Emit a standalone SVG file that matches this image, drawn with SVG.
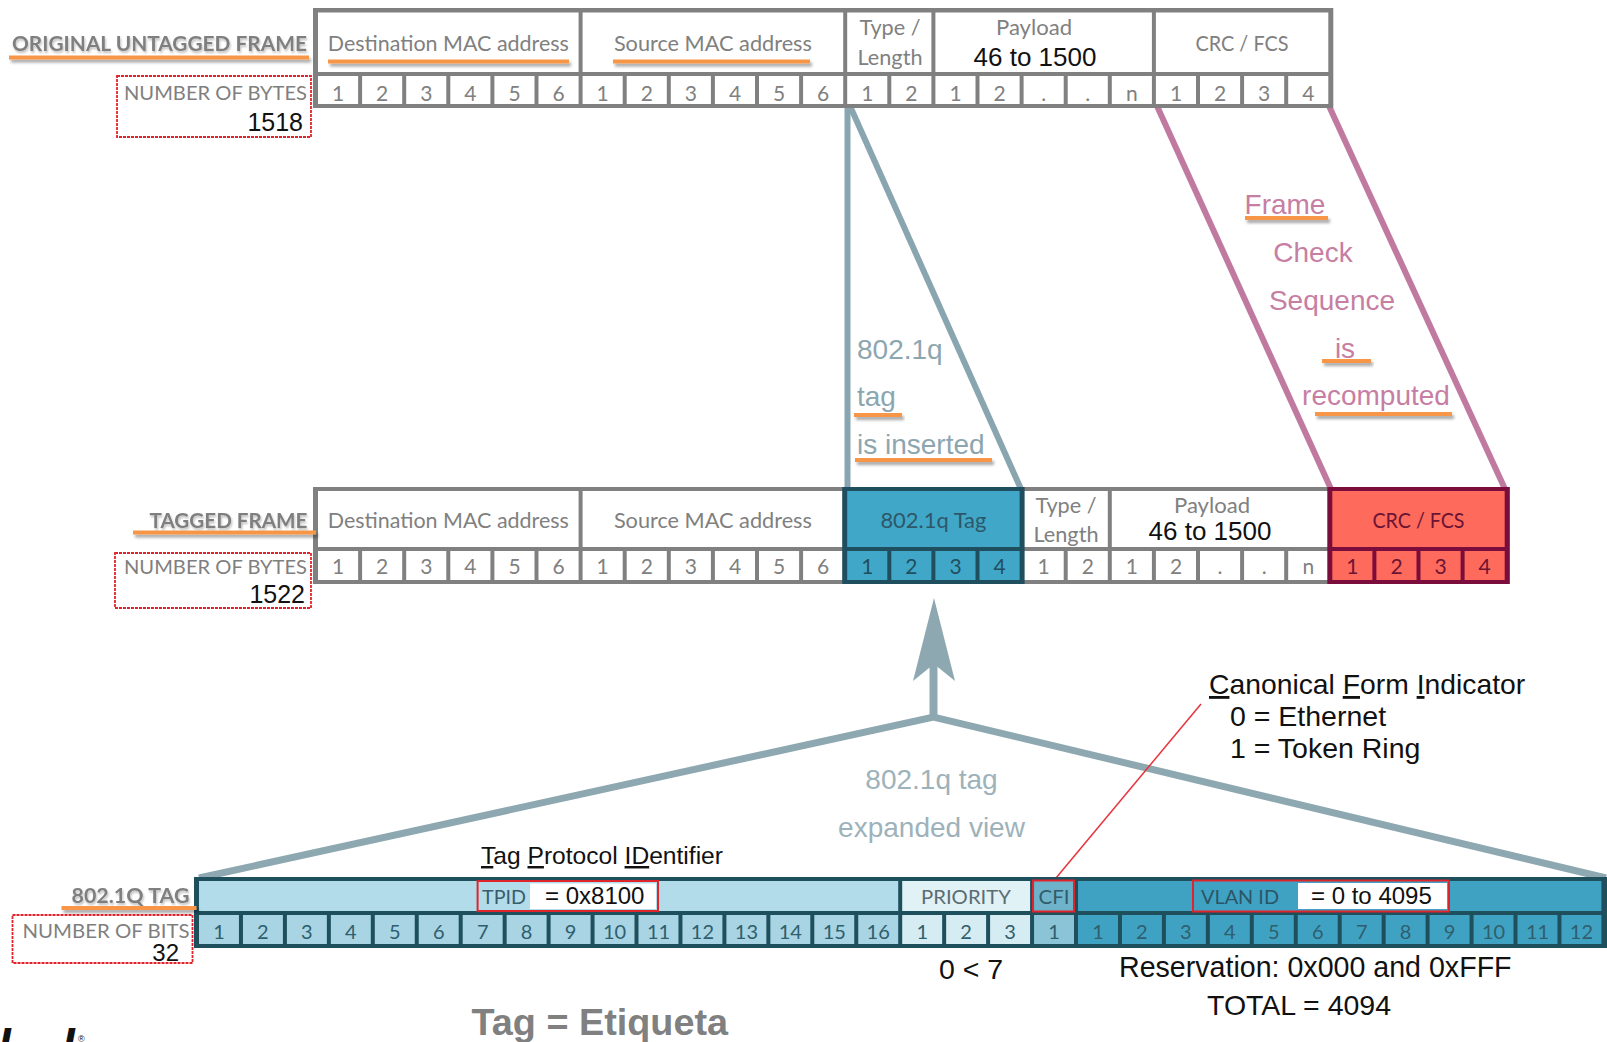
<svg xmlns="http://www.w3.org/2000/svg" width="1607" height="1042" viewBox="0 0 1607 1042">
<defs>
<filter id="sh" x="-5%" y="-100%" width="110%" height="400%"><feDropShadow dx="2" dy="3" stdDeviation="1.5" flood-color="#000" flood-opacity="0.35"/></filter>
<filter id="tsh" x="-5%" y="-30%" width="110%" height="160%"><feDropShadow dx="1" dy="2" stdDeviation="1.2" flood-color="#000" flood-opacity="0.25"/></filter>
</defs>
<style>
.lbl{font-family:Lato,"Open Sans","Liberation Sans",sans-serif;fill:#7f7f7f}
.b{font-weight:700}
.hdr{font-family:Lato,"Open Sans","Liberation Sans",sans-serif;font-size:21px;fill:#808080;text-anchor:middle}
.num{font-family:Lato,"Open Sans","Liberation Sans",sans-serif;font-size:21px;fill:#808080;text-anchor:middle}
.bnum{font-family:Lato,"Open Sans","Liberation Sans",sans-serif;font-size:20px;fill:#2f5e6d;text-anchor:middle}
.blk{font-family:"Liberation Sans",Arial,sans-serif;fill:#111}
.ins{font-family:"Liberation Sans",Arial,sans-serif;font-size:28px;fill:#8ca6b0}
.fcs{font-family:"Liberation Sans",Arial,sans-serif;font-size:28px;fill:#c77ea3;text-anchor:middle}
.ul{fill:#f79646;filter:url(#sh)}
.red{fill:none;stroke:#e3232b;stroke-width:1.8;stroke-dasharray:3 1}
.redS{fill:none;stroke:#e0242c;stroke-width:2}
.frame{fill:#808080}
.w{fill:#fff}
.tagb{fill:#1f4f5e}
.tagc{fill:#41a7c8}
.crcb{fill:#7b0d3c}
.crcc{fill:#fe6a5b}
.qbar{fill:#1e4f5d}
.tp{fill:#b3dcea}
.tpb{fill:#a8d4e3}
.pr{fill:#e1f2f7}
.prb{fill:#d6ecf3}
.cf{fill:#6fb3ca}
.cfb{fill:#8bc4d6}
.vl{fill:#40a2c3}
.bl{stroke:#89a5af;stroke-width:6;fill:none}
.pu{stroke:#c07aa0;stroke-width:6;fill:none}
.ex{stroke:#8ea8b1;stroke-width:7;fill:none}
</style>
<rect width="1607" height="1042" fill="#fff"/>

<g id="connectors">
<line class="bl" x1="847.5" y1="106" x2="847.5" y2="489"/>
<line class="bl" x1="850" y1="106" x2="1021" y2="489"/>
<line class="pu" x1="1157" y1="106" x2="1331" y2="489"/>
<line class="pu" x1="1329" y1="106" x2="1505" y2="489"/>
<polyline class="ex" points="199,878 933.5,717 1606,878"/>
<line x1="933.5" y1="718" x2="933.5" y2="660" stroke="#8ea8b1" stroke-width="8"/>
<polygon points="934,598 955,681 934,664 913,681" fill="#8ea8b1"/>
<line x1="1056" y1="878" x2="1201" y2="704" stroke="#e8323a" stroke-width="1.5"/>
</g>

<g id="original-frame">
<rect class="frame" x="313" y="8" width="1020.3" height="100"/>
<rect class="w" x="318" y="12.5" width="260.6" height="59.5"/>
<rect class="w" x="582.6" y="12.5" width="260.6" height="59.5"/>
<rect class="w" x="847.2" y="12.5" width="84.2" height="59.5"/>
<rect class="w" x="935.4" y="12.5" width="216.5" height="59.5"/>
<rect class="w" x="1155.9" y="12.5" width="172.4" height="59.5"/>
<g class="w">
<rect x="318" y="76" width="40.1" height="28"/><rect x="362.1" y="76" width="40.1" height="28"/><rect x="406.2" y="76" width="40.1" height="28"/><rect x="450.3" y="76" width="40.1" height="28"/><rect x="494.4" y="76" width="40.1" height="28"/><rect x="538.5" y="76" width="40.1" height="28"/>
<rect x="582.6" y="76" width="40.1" height="28"/><rect x="626.7" y="76" width="40.1" height="28"/><rect x="670.8" y="76" width="40.1" height="28"/><rect x="714.9" y="76" width="40.1" height="28"/><rect x="759" y="76" width="40.1" height="28"/><rect x="803.1" y="76" width="40.1" height="28"/>
<rect x="847.2" y="76" width="40.1" height="28"/><rect x="891.3" y="76" width="40.1" height="28"/>
<rect x="935.4" y="76" width="40.1" height="28"/><rect x="979.5" y="76" width="40.1" height="28"/><rect x="1023.6" y="76" width="40.1" height="28"/><rect x="1067.7" y="76" width="40.1" height="28"/><rect x="1111.8" y="76" width="40.1" height="28"/>
<rect x="1155.9" y="76" width="40.1" height="28"/><rect x="1200" y="76" width="40.1" height="28"/><rect x="1244.1" y="76" width="40.1" height="28"/><rect x="1288.2" y="76" width="40.1" height="28"/>
</g>
<text class="hdr" x="448.3" y="51" textLength="241" lengthAdjust="spacingAndGlyphs">Destination MAC address</text>
<text class="hdr" x="712.9" y="51" textLength="198" lengthAdjust="spacingAndGlyphs">Source MAC address</text>
<text class="hdr" x="890" y="35" textLength="61" lengthAdjust="spacingAndGlyphs">Type /</text>
<text class="hdr" x="890" y="64.5" textLength="65" lengthAdjust="spacingAndGlyphs">Length</text>
<text class="hdr" x="1034" y="35" textLength="76" lengthAdjust="spacingAndGlyphs">Payload</text>
<text class="blk" x="1035" y="65.5" font-size="26" text-anchor="middle">46 to 1500</text>
<text class="hdr" x="1242" y="51" textLength="93" lengthAdjust="spacingAndGlyphs">CRC / FCS</text>
<g class="num">
<text x="338.1" y="100.5">1</text><text x="382.2" y="100.5">2</text><text x="426.3" y="100.5">3</text><text x="470.4" y="100.5">4</text><text x="514.5" y="100.5">5</text><text x="558.6" y="100.5">6</text>
<text x="602.7" y="100.5">1</text><text x="646.8" y="100.5">2</text><text x="690.9" y="100.5">3</text><text x="735" y="100.5">4</text><text x="779.1" y="100.5">5</text><text x="823.2" y="100.5">6</text>
<text x="867.3" y="100.5">1</text><text x="911.4" y="100.5">2</text>
<text x="955.5" y="100.5">1</text><text x="999.6" y="100.5">2</text><text x="1043.7" y="100.5">.</text><text x="1087.8" y="100.5">.</text><text x="1131.9" y="100.5">n</text>
<text x="1176" y="100.5">1</text><text x="1220.1" y="100.5">2</text><text x="1264.2" y="100.5">3</text><text x="1308.3" y="100.5">4</text>
</g>
</g>

<g id="original-labels">
<text class="lbl b" x="12" y="51" font-size="20" textLength="295" lengthAdjust="spacingAndGlyphs" filter="url(#tsh)">ORIGINAL UNTAGGED FRAME</text>
<rect class="ul" x="9" y="55.5" width="300" height="4"/>
<rect class="ul" x="328" y="59.5" width="241" height="4"/>
<rect class="ul" x="613" y="59.5" width="197" height="4"/>
<rect class="red" x="117" y="76" width="194" height="61"/>
<text class="lbl" x="307" y="99.5" font-size="20" text-anchor="end" textLength="183" lengthAdjust="spacingAndGlyphs">NUMBER OF BYTES</text>
<text class="blk" x="303" y="131" font-size="25" text-anchor="end">1518</text>
</g>

<g id="insert-note">
<text class="ins" x="857" y="358.5">802.1q</text>
<text class="ins" x="857" y="406">tag</text>
<text class="ins" x="857" y="454">is inserted</text>
<rect class="ul" x="854" y="413" width="48" height="4"/>
<rect class="ul" x="855" y="458" width="137" height="4"/>
</g>

<g id="fcs-note">
<text class="fcs" x="1285" y="214">Frame</text>
<text class="fcs" x="1313" y="262">Check</text>
<text class="fcs" x="1332" y="310">Sequence</text>
<text class="fcs" x="1345" y="358">is</text>
<text class="fcs" x="1376" y="405">recomputed</text>
<rect class="ul" x="1245" y="216" width="83" height="4"/>
<rect class="ul" x="1322" y="359" width="49" height="4"/>
<rect class="ul" x="1315" y="412" width="137" height="4"/>
</g>

<g id="tagged-frame">
<rect class="frame" x="313" y="487" width="1196.7" height="97"/>
<rect class="w" x="318" y="491" width="260.6" height="56"/>
<rect class="w" x="582.6" y="491" width="260.6" height="56"/>
<rect class="w" x="1023.6" y="491" width="84.2" height="56"/>
<rect class="w" x="1111.8" y="491" width="216.5" height="56"/>
<g class="w">
<rect x="318" y="551" width="40.1" height="29"/><rect x="362.1" y="551" width="40.1" height="29"/><rect x="406.2" y="551" width="40.1" height="29"/><rect x="450.3" y="551" width="40.1" height="29"/><rect x="494.4" y="551" width="40.1" height="29"/><rect x="538.5" y="551" width="40.1" height="29"/>
<rect x="582.6" y="551" width="40.1" height="29"/><rect x="626.7" y="551" width="40.1" height="29"/><rect x="670.8" y="551" width="40.1" height="29"/><rect x="714.9" y="551" width="40.1" height="29"/><rect x="759" y="551" width="40.1" height="29"/><rect x="803.1" y="551" width="40.1" height="29"/>
<rect x="1023.6" y="551" width="40.1" height="29"/><rect x="1067.7" y="551" width="40.1" height="29"/>
<rect x="1111.8" y="551" width="40.1" height="29"/><rect x="1155.9" y="551" width="40.1" height="29"/><rect x="1200" y="551" width="40.1" height="29"/><rect x="1244.1" y="551" width="40.1" height="29"/><rect x="1288.2" y="551" width="40.1" height="29"/>
</g>
<rect class="tagb" x="842.2" y="487" width="182.4" height="97"/>
<rect class="tagc" x="847.2" y="491" width="172.4" height="56"/>
<g class="tagc">
<rect x="847.2" y="551" width="40.1" height="29"/><rect x="891.3" y="551" width="40.1" height="29"/><rect x="935.4" y="551" width="40.1" height="29"/><rect x="979.5" y="551" width="40.1" height="29"/>
</g>
<rect class="crcb" x="1327.3" y="487" width="182.4" height="97"/>
<rect class="crcc" x="1332.3" y="491" width="172.4" height="56"/>
<g class="crcc">
<rect x="1332.3" y="551" width="40.1" height="29"/><rect x="1376.4" y="551" width="40.1" height="29"/><rect x="1420.5" y="551" width="40.1" height="29"/><rect x="1464.6" y="551" width="40.1" height="29"/>
</g>
<text class="hdr" x="448.3" y="528" textLength="241" lengthAdjust="spacingAndGlyphs">Destination MAC address</text>
<text class="hdr" x="712.9" y="528" textLength="198" lengthAdjust="spacingAndGlyphs">Source MAC address</text>
<text class="hdr" x="933.4" y="528" style="fill:#2c5868" textLength="106" lengthAdjust="spacingAndGlyphs">802.1q Tag</text>
<text class="hdr" x="1066" y="512.5" textLength="61" lengthAdjust="spacingAndGlyphs">Type /</text>
<text class="hdr" x="1066" y="542" textLength="65" lengthAdjust="spacingAndGlyphs">Length</text>
<text class="hdr" x="1212" y="512.5" textLength="76" lengthAdjust="spacingAndGlyphs">Payload</text>
<text class="blk" x="1210" y="540" font-size="26" text-anchor="middle">46 to 1500</text>
<text class="hdr" x="1418.5" y="528" style="fill:#6b1434" textLength="92" lengthAdjust="spacingAndGlyphs">CRC / FCS</text>
<g class="num">
<text x="338.1" y="574">1</text><text x="382.2" y="574">2</text><text x="426.3" y="574">3</text><text x="470.4" y="574">4</text><text x="514.5" y="574">5</text><text x="558.6" y="574">6</text>
<text x="602.7" y="574">1</text><text x="646.8" y="574">2</text><text x="690.9" y="574">3</text><text x="735" y="574">4</text><text x="779.1" y="574">5</text><text x="823.2" y="574">6</text>
<text x="867.3" y="574" style="fill:#1f4f5e">1</text><text x="911.4" y="574" style="fill:#1f4f5e">2</text><text x="955.5" y="574" style="fill:#1f4f5e">3</text><text x="999.6" y="574" style="fill:#1f4f5e">4</text>
<text x="1043.7" y="574">1</text><text x="1087.8" y="574">2</text>
<text x="1131.9" y="574">1</text><text x="1176" y="574">2</text><text x="1220.1" y="574">.</text><text x="1264.2" y="574">.</text><text x="1308.3" y="574">n</text>
<text x="1352.4" y="574" style="fill:#6b1434">1</text><text x="1396.5" y="574" style="fill:#6b1434">2</text><text x="1440.6" y="574" style="fill:#6b1434">3</text><text x="1484.7" y="574" style="fill:#6b1434">4</text>
</g>
</g>

<g id="tagged-labels">
<text class="lbl b" x="307.5" y="528" font-size="20" text-anchor="end" textLength="158" lengthAdjust="spacingAndGlyphs" filter="url(#tsh)">TAGGED FRAME</text>
<rect class="ul" x="133" y="530.5" width="183" height="4"/>
<rect class="red" x="115" y="553" width="196" height="55"/>
<text class="lbl" x="307" y="574" font-size="20" text-anchor="end" textLength="183" lengthAdjust="spacingAndGlyphs">NUMBER OF BYTES</text>
<text class="blk" x="305" y="602.5" font-size="25" text-anchor="end">1522</text>
</g>

<g id="expanded-note">
<text x="931.5" y="789" font-family="Liberation Sans, Arial, sans-serif" font-size="28" fill="#9db2ba" text-anchor="middle">802.1q tag</text>
<text x="931.5" y="837" font-family="Liberation Sans, Arial, sans-serif" font-size="28" fill="#9db2ba" text-anchor="middle">expanded view</text>
</g>

<g id="dot1q-tag">
<rect class="qbar" x="194" y="877" width="1413" height="71"/>
<rect class="tp" x="199" y="881" width="699.2" height="30"/>
<rect class="pr" x="902.2" y="881" width="127.9" height="30"/>
<rect class="cf" x="1034.05" y="881" width="39.95" height="30"/>
<rect class="vl" x="1078" y="881" width="523.4" height="30"/>
<g class="tpb">
<rect x="199" y="915" width="39.95" height="29"/><rect x="242.95" y="915" width="39.95" height="29"/><rect x="286.9" y="915" width="39.95" height="29"/><rect x="330.85" y="915" width="39.95" height="29"/><rect x="374.8" y="915" width="39.95" height="29"/><rect x="418.75" y="915" width="39.95" height="29"/><rect x="462.7" y="915" width="39.95" height="29"/><rect x="506.65" y="915" width="39.95" height="29"/>
<rect x="550.6" y="915" width="39.95" height="29"/><rect x="594.55" y="915" width="39.95" height="29"/><rect x="638.5" y="915" width="39.95" height="29"/><rect x="682.45" y="915" width="39.95" height="29"/><rect x="726.4" y="915" width="39.95" height="29"/><rect x="770.35" y="915" width="39.95" height="29"/><rect x="814.3" y="915" width="39.95" height="29"/><rect x="858.25" y="915" width="39.95" height="29"/>
</g>
<g class="prb">
<rect x="902.2" y="915" width="39.95" height="29"/><rect x="946.15" y="915" width="39.95" height="29"/><rect x="990.1" y="915" width="39.95" height="29"/>
</g>
<rect class="cfb" x="1034.05" y="915" width="39.95" height="29"/>
<g class="vl">
<rect x="1078" y="915" width="39.95" height="29"/><rect x="1121.95" y="915" width="39.95" height="29"/><rect x="1165.9" y="915" width="39.95" height="29"/><rect x="1209.85" y="915" width="39.95" height="29"/><rect x="1253.8" y="915" width="39.95" height="29"/><rect x="1297.75" y="915" width="39.95" height="29"/>
<rect x="1341.7" y="915" width="39.95" height="29"/><rect x="1385.65" y="915" width="39.95" height="29"/><rect x="1429.6" y="915" width="39.95" height="29"/><rect x="1473.55" y="915" width="39.95" height="29"/><rect x="1517.5" y="915" width="39.95" height="29"/><rect x="1561.45" y="915" width="39.95" height="29"/>
</g>
<g class="bnum">
<text x="219" y="939">1</text><text x="262.9" y="939">2</text><text x="306.9" y="939">3</text><text x="350.8" y="939">4</text><text x="394.8" y="939">5</text><text x="438.7" y="939">6</text><text x="482.7" y="939">7</text><text x="526.6" y="939">8</text>
<text x="570.6" y="939">9</text><text x="614.5" y="939">10</text><text x="658.5" y="939">11</text><text x="702.4" y="939">12</text><text x="746.4" y="939">13</text><text x="790.3" y="939">14</text><text x="834.3" y="939">15</text><text x="878.2" y="939">16</text>
<text x="922.2" y="939">1</text><text x="966.1" y="939">2</text><text x="1010.1" y="939">3</text>
<text x="1054" y="939">1</text>
<text x="1098" y="939">1</text><text x="1141.9" y="939">2</text><text x="1185.9" y="939">3</text><text x="1229.8" y="939">4</text><text x="1273.8" y="939">5</text><text x="1317.7" y="939">6</text>
<text x="1361.7" y="939">7</text><text x="1405.6" y="939">8</text><text x="1449.6" y="939">9</text><text x="1493.5" y="939">10</text><text x="1537.5" y="939">11</text><text x="1581.4" y="939">12</text>
</g>
<text class="lbl" x="482" y="904" font-size="20" style="fill:#3a5d6b" textLength="44" lengthAdjust="spacingAndGlyphs">TPID</text>
<rect class="w" x="530" y="883.5" width="126" height="25.5"/>
<text class="blk" x="545" y="904" font-size="24">= 0x8100</text>
<rect class="redS" x="477.6" y="881" width="180.4" height="30"/>
<text class="lbl" x="966" y="904" font-size="20" text-anchor="middle" style="fill:#5b6c72" textLength="90" lengthAdjust="spacingAndGlyphs">PRIORITY</text>
<text class="lbl" x="1054" y="904" font-size="20" text-anchor="middle" style="fill:#2f5b6a" textLength="31" lengthAdjust="spacingAndGlyphs">CFI</text>
<rect class="redS" x="1033" y="880.5" width="41" height="31"/>
<text class="lbl" x="1201" y="904" font-size="20" style="fill:#2b5566" textLength="78" lengthAdjust="spacingAndGlyphs">VLAN ID</text>
<rect class="w" x="1298" y="883" width="149" height="26"/>
<text class="blk" x="1311" y="904" font-size="24">= 0 to 4095</text>
<rect class="redS" x="1193" y="880.5" width="256" height="31"/>
</g>

<g id="dot1q-labels">
<text class="lbl b" x="189.5" y="903" font-size="20" text-anchor="end" textLength="118" lengthAdjust="spacingAndGlyphs" filter="url(#tsh)">802.1Q TAG</text>
<rect class="ul" x="61.5" y="906" width="135" height="4"/>
<rect class="red" x="12.5" y="915" width="180" height="48"/>
<text class="lbl" x="189.5" y="937.5" font-size="20" text-anchor="end" textLength="167" lengthAdjust="spacingAndGlyphs">NUMBER OF BITS</text>
<text class="blk" x="179" y="960.5" font-size="24" text-anchor="end">32</text>
<text class="blk" x="481" y="864" font-size="24.6"><tspan text-decoration="underline">T</tspan>ag <tspan text-decoration="underline">P</tspan>rotocol <tspan text-decoration="underline">ID</tspan>entifier</text>
<text class="blk" x="1209" y="694" font-size="28.3"><tspan text-decoration="underline">C</tspan>anonical <tspan text-decoration="underline">F</tspan>orm <tspan text-decoration="underline">I</tspan>ndicator</text>
<text class="blk" x="1230" y="726" font-size="28.5">0 = Ethernet</text>
<text class="blk" x="1230" y="758" font-size="28.5">1 = Token Ring</text>
<text class="blk" x="939" y="979" font-size="28.5">0 &lt; 7</text>
<text class="blk" x="1119" y="977" font-size="28.6">Reservation: 0x000 and 0xFFF</text>
<text class="blk" x="1207" y="1015" font-size="28.5">TOTAL = 4094</text>
<text x="471.5" y="1035" font-family="Liberation Sans, Arial, sans-serif" font-weight="bold" font-size="37.8" fill="#808080">Tag = Etiqueta</text>
<text x="-2" y="1060" font-family="Liberation Sans, Arial, sans-serif" font-weight="bold" font-style="italic" font-size="46" fill="#111">I</text>
<text x="62" y="1060" font-family="Liberation Sans, Arial, sans-serif" font-weight="bold" font-style="italic" font-size="46" fill="#111">I</text>
<text x="78" y="1042" font-family="Liberation Sans, Arial, sans-serif" font-size="9" fill="#111">®</text>
</g>
</svg>
